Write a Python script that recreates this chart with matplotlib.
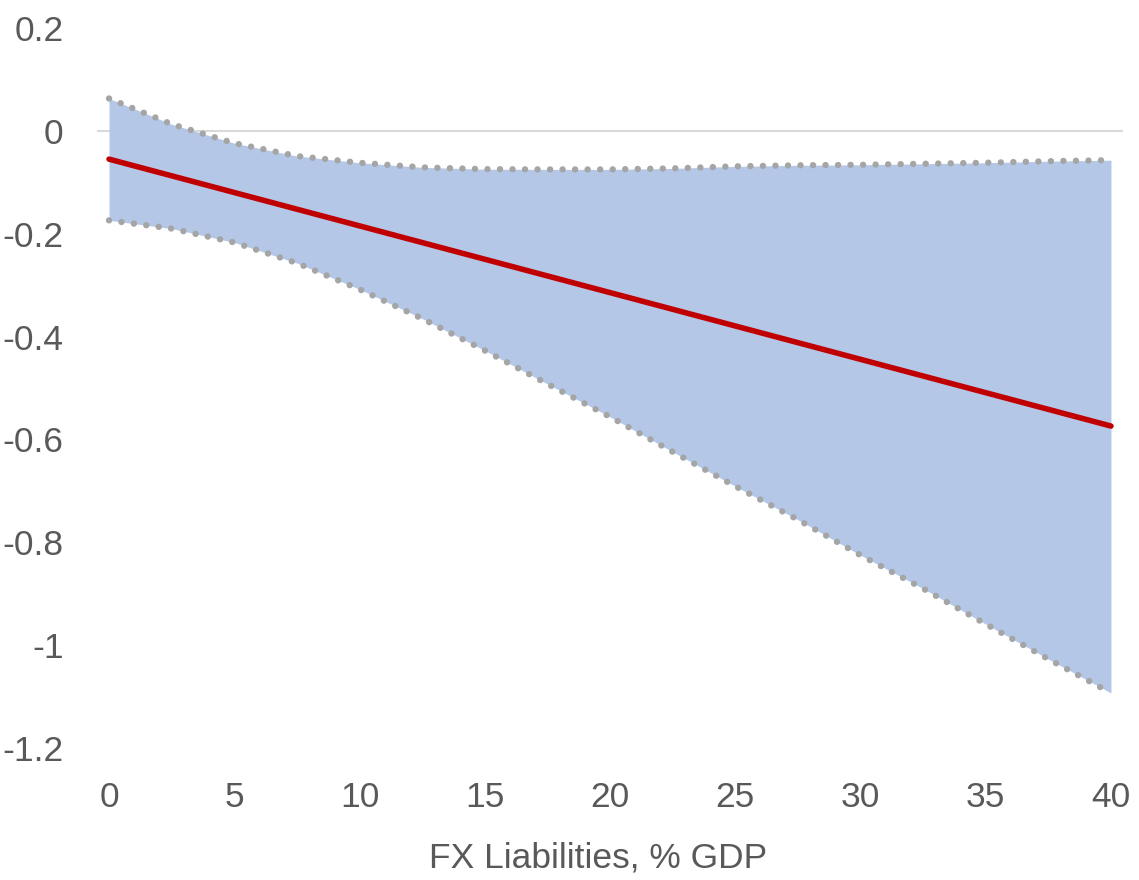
import numpy as np
import matplotlib.pyplot as plt

# FX liabilities (% of GDP) and the estimated effect with its confidence band
fx_liab = [0, 2.5, 5, 7.5, 10, 12.5, 15, 17.5, 20, 22.5, 25, 27.5, 30, 32.5, 35, 37.5, 40]
upper = [0.063, 0.013, -0.024, -0.049, -0.062, -0.071, -0.0745, -0.075, -0.075,
         -0.073, -0.069, -0.067, -0.066, -0.064, -0.062, -0.059, -0.057]
lower = [-0.174, -0.190, -0.217, -0.257, -0.308, -0.365, -0.427, -0.492, -0.556,
         -0.624, -0.691, -0.756, -0.825, -0.890, -0.959, -1.027, -1.093]
effect_ends = [-0.055, -0.574]

plt.rcParams['font.family'] = ['Liberation Sans', 'DejaVu Sans']

fig = plt.figure(figsize=(11.39, 8.80), dpi=100)
ax = fig.add_axes([97 / 1139, 1 - 748 / 880, 1026 / 1139, 720 / 880])

x = np.array(fx_liab)
ax.fill_between(x, lower, upper, color='#B4C7E7', lw=0, zorder=1)
ax.axhline(0, color='#D9D9D9', lw=1.5, zorder=0.5)
# round-capped dots along the band edges
for band in (upper, lower):
    ax.plot(x, band, color='#A5A5A5', lw=4.6, ls=(0, (0.01, 1.95)),
            dash_capstyle='round', zorder=2)
ax.plot([x[0], x[-1]], effect_ends, color='#C00000', lw=4.0,
        solid_capstyle='round', zorder=3)

ax.set_xlim(-0.48, 40.48)
ax.set_ylim(-1.2, 0.2)
ax.set_xticks(range(0, 41, 5))
ax.set_yticks([0.2, 0, -0.2, -0.4, -0.6, -0.8, -1, -1.2])
ax.set_yticklabels(['0.2', '0', '-0.2', '-0.4', '-0.6', '-0.8', '-1', '-1.2'])
ax.tick_params(length=0, labelsize=25.5, colors='#595959')
ax.tick_params(axis='y', pad=24)
ax.tick_params(axis='x', pad=24)
for s in ax.spines.values():
    s.set_visible(False)

ax.set_xlabel('FX Liabilities, % GDP', fontsize=25.5, color='#595959')
ax.xaxis.label.set_va('center')
ax.xaxis.set_label_coords(0.488, -0.153)

fig.savefig('out.png', dpi=100)
